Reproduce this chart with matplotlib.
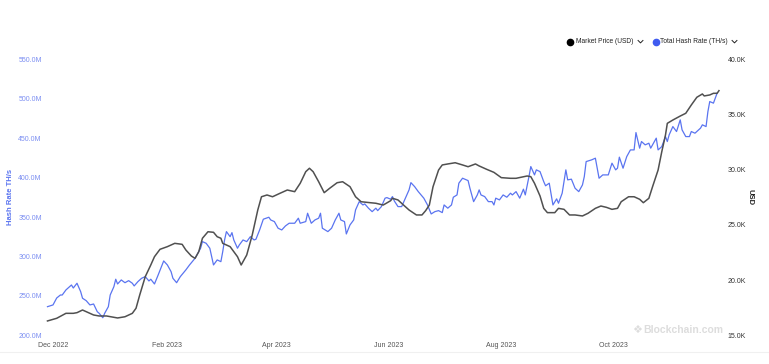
import datetime as dt

import matplotlib
matplotlib.use('Agg')
import matplotlib.pyplot as plt
import matplotlib.dates as mdates
from matplotlib.lines import Line2D
from matplotlib.ticker import FuncFormatter

# days counted from 2022-12-01
base = dt.datetime(2022, 12, 1)

hash_days = [-3, 0, 2, 4, 5, 7, 10, 11, 13, 15, 16, 18, 20, 22, 24, 25, 27, 28, 30, 31,
	33, 34, 35, 37, 39, 41, 43, 44, 46, 48, 50, 52, 53, 55, 57, 60, 62, 64, 65, 67,
	69, 72, 74, 77, 80, 81, 83, 85, 87, 89, 91, 92, 93, 94, 96, 97, 98, 100, 101, 103,
	105, 107, 109, 110, 112, 114, 117, 118, 120, 122, 124, 126, 128, 131, 133, 134, 137, 138, 140, 142,
	144, 145, 146, 149, 151, 153, 155, 156, 158, 159, 161, 163, 164, 166, 168, 169, 171, 173, 175, 176,
	178, 180, 181, 183, 184, 185, 187, 189, 191, 193, 194, 196, 198, 201, 203, 205, 207, 209, 211, 212,
	214, 216, 217, 219, 220, 222, 225, 226, 228, 230, 231, 232, 234, 236, 238, 239, 240, 242, 244, 246,
	248, 249, 251, 253, 255, 256, 258, 259, 261, 262, 264, 266, 267, 269, 271, 273, 274, 276, 277, 278,
	279, 281, 283, 285, 287, 288, 289, 292, 294, 296, 298, 301, 303, 305, 306, 307, 309, 311, 313, 315,
	316, 318, 319, 321, 323, 324, 325, 327, 328, 330, 332, 333, 334, 336, 338, 340, 341, 343, 345, 346,
	348, 351, 352, 354, 355, 356, 358, 359, 360]

# total hash rate, millions of TH/s
hash_rate = [236.3, 238.5, 247.3, 251.1, 251.1, 257.5, 263.8, 260.0, 266.0, 255.3, 247.0, 243.9, 238.5, 239.7, 229.9, 227.9, 222.3, 227.9, 236.3, 251.1,
	261.7, 271.1, 265.1, 270.2, 266.7, 269.3, 266.0, 262.6, 268.0, 272.3, 274.4, 268.9, 271.1, 265.1, 276.5, 294.3, 289.2, 280.7, 272.3, 266.7,
	274.4, 282.9, 289.2, 297.7, 310.4, 318.8, 316.7, 310.4, 289.2, 295.6, 293.4, 306.1, 320.9, 331.5, 325.1, 330.2, 320.9, 310.4, 314.6, 320.9,
	318.8, 325.1, 320.9, 321.8, 333.6, 347.2, 349.7, 346.3, 344.2, 335.8, 333.6, 338.7, 342.1, 342.1, 348.5, 342.1, 344.2, 354.8, 342.1, 346.3,
	348.5, 354.8, 335.8, 331.5, 335.8, 346.3, 354.8, 346.3, 344.2, 328.5, 340.0, 346.3, 359.0, 369.5, 365.3, 366.6, 361.2, 356.8, 361.2, 358.1,
	363.2, 373.9, 374.6, 372.6, 375.9, 370.4, 363.2, 363.2, 373.9, 384.4, 393.6, 388.6, 382.2, 373.9, 365.3, 353.9, 356.8, 358.1, 355.6, 365.3,
	361.2, 365.3, 375.1, 378.0, 392.9, 399.2, 396.2, 386.5, 369.5, 378.0, 384.4, 378.0, 375.9, 369.5, 369.5, 365.3, 373.9, 371.7, 378.0, 375.1,
	380.2, 378.0, 382.2, 373.9, 385.3, 378.0, 401.3, 414.0, 403.4, 409.8, 407.6, 394.9, 389.6, 392.9, 365.3, 373.0, 367.5, 380.2, 394.9, 409.8,
	397.1, 398.0, 386.5, 382.2, 390.7, 401.3, 420.3, 422.5, 424.6, 399.2, 403.4, 403.4, 418.3, 409.8, 411.9, 425.9, 411.9, 426.6, 435.1, 435.1,
	457.1, 437.3, 445.7, 441.5, 443.6, 437.3, 441.5, 450.0, 435.1, 439.3, 452.0, 445.7, 454.2, 464.7, 458.4, 473.2, 460.5, 452.0, 452.0, 458.4,
	456.3, 462.7, 466.9, 464.7, 483.7, 496.4, 494.4, 500.8, 507.1]

price_days = [-3, 2, 7, 11, 13, 16, 18, 22, 25, 29, 35, 39, 43, 45, 47, 50, 53, 55, 58, 62,
	66, 70, 72, 75, 77, 79, 81, 84, 87, 89, 91, 92, 96, 100, 102, 105, 108, 111, 113, 116,
	119, 123, 127, 131, 134, 137, 139, 141, 144, 147, 150, 154, 157, 161, 164, 167, 172, 175, 179, 183,
	184, 187, 190, 193, 197, 200, 202, 204, 206, 209, 211, 214, 218, 222, 225, 229, 231, 235, 239, 243,
	248, 251, 257, 259, 261, 264, 266, 268, 272, 274, 277, 280, 283, 287, 290, 294, 297, 300, 303, 306,
	308, 312, 315, 318, 320, 323, 325, 328, 330, 332, 333, 336, 340, 343, 346, 349, 352, 353, 356, 358,
	360, 361]

# market price, thousands of USD
price = [16.30, 16.54, 16.99, 16.99, 17.05, 17.29, 17.14, 16.84, 16.75, 16.75, 16.57, 16.68, 16.99, 17.45, 18.65, 20.31, 21.37, 22.12, 22.79, 23.03,
	23.33, 23.24, 22.73, 22.18, 21.97, 22.57, 23.79, 24.38, 24.33, 23.93, 23.79, 23.33, 23.03, 22.12, 21.37, 22.27, 24.09, 26.35, 27.55, 27.71,
	27.55, 27.86, 28.16, 28.01, 28.77, 29.82, 30.13, 29.82, 28.91, 27.92, 28.32, 28.82, 28.91, 28.46, 27.55, 27.10, 27.01, 26.96, 26.80, 27.19,
	27.41, 27.26, 26.80, 26.35, 25.90, 25.90, 26.29, 26.80, 28.46, 29.97, 30.43, 30.52, 30.63, 30.43, 30.27, 30.52, 30.34, 30.04, 29.76, 29.28,
	29.22, 29.22, 29.43, 29.37, 28.77, 27.62, 26.50, 26.11, 26.11, 26.50, 26.41, 25.90, 25.90, 25.81, 26.05, 26.50, 26.71, 26.59, 26.41, 26.50,
	27.10, 27.55, 27.55, 27.32, 27.01, 27.41, 28.46, 29.97, 31.63, 33.14, 34.20, 34.50, 34.86, 35.11, 35.86, 36.56, 36.86, 36.68, 36.77, 36.92,
	36.92, 37.16]

hash_dates = [base + dt.timedelta(days=d) for d in hash_days]
price_dates = [base + dt.timedelta(days=d) for d in price_days]

blue = '#5a74f0'
label_blue = '#7c8ff2'
dark = '#505050'

plt.rcParams['font.family'] = ['Liberation Sans', 'DejaVu Sans']

fig = plt.figure(figsize=(7.69, 3.64), dpi=100)
ax = fig.add_axes([46 / 769, 1 - 335.3 / 364, 675 / 769, 276 / 364])
ax2 = ax.twinx()

ax.plot(hash_dates, hash_rate, color=blue, linewidth=0.9)
ax2.plot(price_dates, price, color=dark, linewidth=1.1)

ax.set_xlim(base + dt.timedelta(days=-3.8), base + dt.timedelta(days=362.1))
ax.set_ylim(200, 550)
ax2.set_ylim(15, 40)

ax.set_yticks(range(200, 551, 50))
ax.yaxis.set_major_formatter(FuncFormatter(lambda v, p: '%.1fM' % v))
ax2.set_yticks(range(15, 41, 5))
ax2.yaxis.set_major_formatter(FuncFormatter(lambda v, p: '%.1fK' % v))

ax.xaxis.set_major_locator(mdates.MonthLocator(bymonth=[2, 4, 6, 8, 10, 12]))
ax.xaxis.set_major_formatter(mdates.DateFormatter('%b %Y'))

ax.tick_params(axis='x', length=0, pad=5, labelsize=5, labelcolor='#555555')
ax.tick_params(axis='y', length=0, pad=3, labelsize=5, labelcolor=label_blue)
ax2.tick_params(axis='y', length=0, pad=5, labelsize=5, labelcolor='#333333')

for a in (ax, ax2):
	for s in a.spines.values():
		s.set_visible(False)

ax.set_ylabel('Hash Rate TH/s', color=blue, fontsize=5.5, fontweight='bold', labelpad=3)
ax2.set_ylabel('USD', color='#222222', fontsize=5.5, fontweight='bold', rotation=270, labelpad=5)

# legend drawn as figure text, chevrons as open path markers
chevron = [(-1, 0.5), (0, -0.5), (1, 0.5)]
fig.add_artist(Line2D([569.5 / 769], [1 - 41.7 / 364], marker='o', markersize=4.5, color='black', linestyle='none'))
fig.text(575.5 / 769, 1 - 41.7 / 364, 'Market Price (USD)', fontsize=4.8, color='#222222', va='center')
fig.add_artist(Line2D([640 / 769], [1 - 41 / 364], marker=chevron, markersize=4, markerfacecolor='none',
	markeredgecolor='#222222', markeredgewidth=0.7, linestyle='none'))
fig.add_artist(Line2D([655.5 / 769], [1 - 41.7 / 364], marker='o', markersize=4.5, color='#3f5bf0', linestyle='none'))
fig.text(660.5 / 769, 1 - 41.7 / 364, 'Total Hash Rate (TH/s)', fontsize=4.8, color='#222222', va='center')
fig.add_artist(Line2D([734 / 769], [1 - 41 / 364], marker=chevron, markersize=4, markerfacecolor='none',
	markeredgecolor='#222222', markeredgewidth=0.7, linestyle='none'))

# watermark
fig.text(632 / 769, 1 - 330 / 364, '❖', fontsize=8, color='#dddddd', va='center', family=['DejaVu Sans'])
fig.text(643 / 769, 1 - 330 / 364, 'Blockchain.com', fontsize=7.5, color='#dddddd', va='center', fontweight='bold')

fig.add_artist(Line2D([0.0, 1.0], [1 - 352 / 364, 1 - 352 / 364], color='#f0f0f0', linewidth=0.8))

fig.savefig('out.png', dpi=100)
